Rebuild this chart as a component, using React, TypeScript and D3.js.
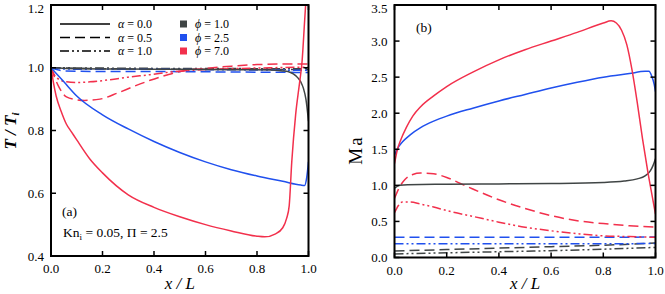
import React from "react";
import * as d3 from "d3";

// ---------- data: panel (a) T/Ti vs x/L ----------
const aGraySolidX = [0, 0.1, 0.3, 0.5, 0.7, 0.85, 0.9, 0.93, 0.95, 0.97, 0.98, 0.99, 1.0];
const aGraySolidY = [1.0, 0.997, 0.996, 0.995, 0.994, 0.993, 0.99, 0.985, 0.975, 0.955, 0.935, 0.9, 0.83];
const aGrayDashX = [0, 0.2, 0.4, 0.6, 0.8, 1.0];
const aGrayDashY = [1.0, 0.997, 0.996, 0.995, 0.995, 0.994];
const aGrayDotX = [0, 0.2, 0.4, 0.6, 0.8, 1.0];
const aGrayDotY = [1.0, 0.999, 0.998, 0.998, 0.997, 0.997];

const aBlueSolidX = [0, 0.05, 0.1, 0.2, 0.3, 0.4, 0.5, 0.6, 0.7, 0.8, 0.9, 0.97, 0.985, 0.993, 1.0];
const aBlueSolidY = [1.0, 0.955, 0.91, 0.85, 0.805, 0.765, 0.73, 0.7, 0.675, 0.655, 0.638, 0.626, 0.625, 0.65, 0.7];
const aBlueDashX = [0, 0.05, 0.2, 0.4, 0.6, 0.8, 1.0];
const aBlueDashY = [1.0, 0.99, 0.988, 0.988, 0.987, 0.986, 0.985];
const aBlueDotX = [0, 0.05, 0.2, 0.4, 0.6, 0.8, 1.0];
const aBlueDotY = [1.0, 0.996, 0.995, 0.995, 0.994, 0.993, 0.992];

const aRedSolidX = [0, 0.01, 0.02, 0.04, 0.06, 0.08, 0.1, 0.15, 0.2, 0.3, 0.4, 0.5, 0.6, 0.7, 0.8, 0.83, 0.87, 0.9, 0.915, 0.925, 0.935, 0.95, 0.965, 0.975, 0.985, 0.995];
const aRedSolidY = [1.0, 0.95, 0.91, 0.86, 0.82, 0.795, 0.77, 0.71, 0.665, 0.595, 0.555, 0.525, 0.5, 0.48, 0.463, 0.461, 0.47, 0.49, 0.52, 0.56, 0.7, 0.85, 0.95, 1.02, 1.15, 1.28];
const aRedDashX = [0, 0.03, 0.06, 0.1, 0.13, 0.19, 0.26, 0.32, 0.385, 0.45, 0.5, 0.6, 0.7, 0.8, 0.9, 1.0];
const aRedDashY = [1.0, 0.94, 0.907, 0.898, 0.896, 0.9, 0.92, 0.94, 0.96, 0.977, 0.988, 0.998, 1.005, 1.01, 1.012, 1.012];
const aRedDotX = [0, 0.02, 0.06, 0.1, 0.15, 0.23, 0.3, 0.385, 0.45, 0.55, 0.7, 0.85, 1.0];
const aRedDotY = [1.0, 0.97, 0.955, 0.953, 0.955, 0.962, 0.97, 0.978, 0.985, 0.992, 0.997, 1.0, 1.002];

// ---------- data: panel (b) Ma vs x/L ----------
const bGraySolidX = [0, 0.02, 0.05, 0.2, 0.4, 0.6, 0.8, 0.88, 0.93, 0.96, 0.98, 0.99, 1.0];
const bGraySolidY = [0.96, 1.0, 1.01, 1.015, 1.02, 1.025, 1.04, 1.06, 1.09, 1.13, 1.2, 1.27, 1.37];
const bGrayDashX = [0, 0.2, 0.4, 0.6, 0.8, 1.0];
const bGrayDashY = [0.09, 0.11, 0.13, 0.15, 0.17, 0.2];
const bGrayDotX = [0, 0.2, 0.4, 0.6, 0.8, 1.0];
const bGrayDotY = [0.05, 0.065, 0.08, 0.095, 0.115, 0.14];

const bBlueSolidX = [0, 0.01, 0.03, 0.06, 0.1, 0.15, 0.2, 0.3, 0.4, 0.5, 0.6, 0.7, 0.8, 0.9, 0.96, 0.975, 0.985, 0.995, 1.0];
const bBlueSolidY = [1.42, 1.5, 1.6, 1.7, 1.8, 1.89, 1.96, 2.07, 2.17, 2.26, 2.35, 2.43, 2.5, 2.55, 2.58, 2.58, 2.52, 2.4, 2.3];
const bBlueDashX = [0, 0.2, 0.4, 0.6, 0.8, 1.0];
const bBlueDashY = [0.28, 0.28, 0.28, 0.28, 0.28, 0.285];
const bBlueDotX = [0, 0.2, 0.4, 0.6, 0.8, 1.0];
const bBlueDotY = [0.19, 0.19, 0.19, 0.19, 0.19, 0.195];

const bRedSolidX = [0, 0.01, 0.025, 0.045, 0.07, 0.1, 0.15, 0.2, 0.3, 0.4, 0.5, 0.6, 0.7, 0.8, 0.83, 0.85, 0.87, 0.89, 0.91, 0.93, 0.95, 0.97, 0.99, 1.0];
const bRedSolidY = [1.3, 1.48, 1.64, 1.8, 1.96, 2.09, 2.24, 2.37, 2.57, 2.74, 2.88, 3.0, 3.12, 3.25, 3.28, 3.25, 3.15, 2.95, 2.6, 2.15, 1.65, 1.2, 0.8, 0.6];
const bRedDashX = [0, 0.02, 0.04, 0.07, 0.1, 0.15, 0.2, 0.25, 0.3, 0.4, 0.5, 0.6, 0.7, 0.8, 0.9, 1.0];
const bRedDashY = [0.82, 0.98, 1.08, 1.15, 1.17, 1.16, 1.11, 1.03, 0.95, 0.8, 0.68, 0.58, 0.51, 0.47, 0.44, 0.42];
const bRedDotX = [0, 0.015, 0.03, 0.06, 0.1, 0.15, 0.2, 0.3, 0.4, 0.5, 0.6, 0.7, 0.8, 0.9, 1.0];
const bRedDotY = [0.62, 0.72, 0.77, 0.77, 0.74, 0.7, 0.65, 0.57, 0.49, 0.42, 0.37, 0.33, 0.3, 0.29, 0.28];

const xTicks = [0, 0.2, 0.4, 0.6, 0.8, 1.0];
const aYTicks = [0.4, 0.6, 0.8, 1.0, 1.2];
const bYTicks = [0, 0.5, 1.0, 1.5, 2.0, 2.5, 3.0, 3.5];

const alphaLabels = ["0.0", "0.5", "1.0"];
const phiLabels = ["1.0", "2.5", "7.0"];

const GRAY = "#404545";
const BLUE = "#2050ee";
const RED = "#f2304c";
const COLORS = [GRAY, BLUE, RED];
const DASHES = ["none", "10,5", "9,3,2,3,2,3"];

type Series = { x: number[]; y: number[]; c: number; s: number };

const aSeries: Series[] = [
  { x: aGrayDashX, y: aGrayDashY, c: 0, s: 1 },
  { x: aGrayDotX, y: aGrayDotY, c: 0, s: 2 },
  { x: aBlueDotX, y: aBlueDotY, c: 1, s: 2 },
  { x: aBlueDashX, y: aBlueDashY, c: 1, s: 1 },
  { x: aRedDotX, y: aRedDotY, c: 2, s: 2 },
  { x: aRedDashX, y: aRedDashY, c: 2, s: 1 },
  { x: aGraySolidX, y: aGraySolidY, c: 0, s: 0 },
  { x: aBlueSolidX, y: aBlueSolidY, c: 1, s: 0 },
  { x: aRedSolidX, y: aRedSolidY, c: 2, s: 0 },
];
const bSeries: Series[] = [
  { x: bGrayDashX, y: bGrayDashY, c: 0, s: 1 },
  { x: bGrayDotX, y: bGrayDotY, c: 0, s: 2 },
  { x: bBlueDashX, y: bBlueDashY, c: 1, s: 1 },
  { x: bBlueDotX, y: bBlueDotY, c: 1, s: 2 },
  { x: bRedDashX, y: bRedDashY, c: 2, s: 1 },
  { x: bRedDotX, y: bRedDotY, c: 2, s: 2 },
  { x: bGraySolidX, y: bGraySolidY, c: 0, s: 0 },
  { x: bBlueSolidX, y: bBlueSolidY, c: 1, s: 0 },
  { x: bRedSolidX, y: bRedSolidY, c: 2, s: 0 },
];

const FONT = "'Liberation Serif', 'Times New Roman', serif";

function Panel(props: {
  id: string;
  left: number;
  right: number;
  top: number;
  bottom: number;
  yDomain: [number, number];
  yTicks: number[];
  series: Series[];
}) {
  const { id, left, right, top, bottom, yDomain, yTicks, series } = props;
  const x = d3.scaleLinear().domain([0, 1]).range([left, right]);
  const y = d3.scaleLinear().domain(yDomain).range([bottom, top]);
  const line = d3
    .line<[number, number]>()
    .x((d) => x(d[0]))
    .y((d) => y(d[1]))
    .curve(d3.curveMonotoneX);
  const tl = 5;
  return (
    <g>
      <defs>
        <clipPath id={id}>
          <rect x={left} y={top} width={right - left} height={bottom - top} />
        </clipPath>
      </defs>
      <g clipPath={`url(#${id})`}>
        {series.map((s, i) => (
          <path
            key={i}
            d={line(s.x.map((v, k) => [v, s.y[k]] as [number, number])) || ""}
            fill="none"
            stroke={COLORS[s.c]}
            strokeWidth={1.5}
            strokeDasharray={DASHES[s.s]}
          />
        ))}
      </g>
      {xTicks.map((t) => (
        <g key={"x" + t}>
          <line x1={x(t)} x2={x(t)} y1={bottom} y2={bottom - tl} stroke="#000" strokeWidth={1.5} />
          <line x1={x(t)} x2={x(t)} y1={top} y2={top + tl} stroke="#000" strokeWidth={1.5} />
          <text x={x(t)} y={bottom + 17} textAnchor="middle" fontSize={13} fontFamily={FONT}>
            {d3.format(".1f")(t)}
          </text>
        </g>
      ))}
      {yTicks.map((t) => (
        <g key={"y" + t}>
          <line x1={left} x2={left + tl} y1={y(t)} y2={y(t)} stroke="#000" strokeWidth={1.5} />
          <line x1={right} x2={right - tl} y1={y(t)} y2={y(t)} stroke="#000" strokeWidth={1.5} />
          <text x={left - 7} y={Math.max(y(t) + 4.5, 13)} textAnchor="end" fontSize={13} fontFamily={FONT}>
            {d3.format(".1f")(t)}
          </text>
        </g>
      ))}
      <rect x={left} y={top} width={right - left} height={bottom - top} fill="none" stroke="#000" strokeWidth={2} />
      <text x={(left + right) / 2} y={289} textAnchor="middle" fontSize={17} fontFamily={FONT} fontStyle="italic">
        x / L
      </text>
    </g>
  );
}

export default function App() {
  const legX0 = 60;
  const legX1 = 110;
  const legY = [24, 37.5, 51];
  return (
    <svg
      width={665}
      height={294}
      style={{ position: "absolute", left: 0, top: 0, background: "#fff" }}
      fontFamily={FONT}
    >
      <rect width={665} height={294} fill="#fff" />
      <Panel
        id="clipA"
        left={51}
        right={308.5}
        top={5}
        bottom={256}
        yDomain={[0.4, 1.2]}
        yTicks={aYTicks}
        series={aSeries}
      />
      <Panel
        id="clipB"
        left={394.5}
        right={655.5}
        top={5}
        bottom={257.5}
        yDomain={[0, 3.5]}
        yTicks={bYTicks}
        series={bSeries}
      />
      {/* legend */}
      {alphaLabels.map((a, i) => (
        <g key={"a" + a}>
          <line x1={legX0} x2={legX1} y1={legY[i]} y2={legY[i]} stroke="#000" strokeWidth={1.5} strokeDasharray={DASHES[i]} />
          <text x={118} y={legY[i] + 4} fontSize={12} fontFamily={FONT}>
            <tspan fontStyle="italic">α</tspan> = {a}
          </text>
        </g>
      ))}
      {phiLabels.map((p, i) => (
        <g key={"p" + p}>
          <rect x={180} y={legY[i] - 3.5} width={7} height={7} fill={COLORS[i]} />
          <text x={195} y={legY[i] + 4} fontSize={12} fontFamily={FONT}>
            <tspan fontStyle="italic">ϕ</tspan> = {p}
          </text>
        </g>
      ))}
      <text x={62} y={216} fontSize={13.5} fontFamily={FONT}>(a)</text>
      <text x={63} y={237} fontSize={13.5} fontFamily={FONT}>
        Kn<tspan fontSize={9} dy={3}>i</tspan>
        <tspan dy={-3}> = 0.05, Π = 2.5</tspan>
      </text>
      <text x={416} y={32} fontSize={13.5} fontFamily={FONT}>(b)</text>
      <text
        transform="translate(16,131) rotate(-90)"
        textAnchor="middle"
        fontSize={17}
        fontFamily={FONT}
        fontStyle="italic"
        fontWeight="bold"
      >
        T / T<tspan fontSize={11} dy={3}>i</tspan>
      </text>
      <text
        transform="translate(362,150) rotate(-90)"
        textAnchor="middle"
        fontSize={19}
        fontFamily={FONT}
        letterSpacing={2}
      >
        Ma
      </text>
    </svg>
  );
}
